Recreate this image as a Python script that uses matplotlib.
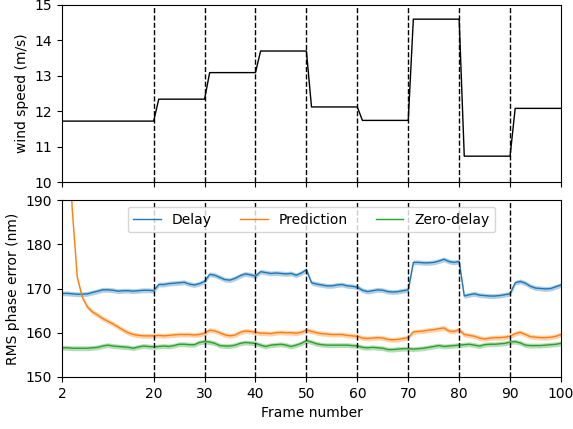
import matplotlib
matplotlib.use("Agg")
import matplotlib.pyplot as plt
import numpy as np

# Wind speed (step profile with 1-frame ramps)
wind_frames = [2, 20, 21, 30, 31, 40, 41, 50, 51, 60, 61, 70, 71, 80, 81, 90, 91, 100]
wind_values = [11.72, 11.72, 12.34, 12.34, 13.09, 13.09, 13.70, 13.70, 12.12, 12.12,
               11.74, 11.74, 14.60, 14.60, 10.73, 10.73, 12.08, 12.08]

frames = list(range(2, 101))

delay = [168.9, 168.9, 168.8, 168.7, 168.7, 168.8, 169.1, 169.4, 169.7, 169.7,
         169.6, 169.4, 169.5, 169.5, 169.4, 169.5, 169.6, 169.6, 169.5, 170.9,
         170.9, 171.1, 171.2, 171.3, 171.4, 171.0, 170.8, 171.1, 171.6, 173.2,
         173.0, 172.5, 172.0, 171.9, 172.3, 172.9, 173.3, 173.1, 172.8, 173.8,
         173.6, 173.4, 173.5, 173.4, 173.3, 173.4, 173.0, 173.5, 174.2, 171.3,
         171.0, 170.8, 170.6, 170.6, 170.8, 170.9, 170.6, 170.5, 170.3, 169.6,
         169.3, 169.5, 169.7, 169.6, 169.3, 169.2, 169.3, 169.5, 169.7, 175.9,
         175.9, 175.8, 175.8, 175.9, 176.2, 176.6, 176.1, 175.9, 176.1, 168.3,
         168.6, 168.8, 168.5, 168.4, 168.3, 168.3, 168.4, 168.6, 168.8, 171.3,
         171.6, 171.2, 170.5, 170.1, 170.0, 169.9, 170.0, 170.4, 170.8]

prediction = [250.0, 215.0, 188.0, 172.5, 168.0, 165.8, 164.7, 164.0, 163.2, 162.6,
              162.0, 161.3, 160.6, 160.0, 159.6, 159.4, 159.3, 159.3, 159.3, 159.4,
              159.3, 159.4, 159.5, 159.6, 159.6, 159.6, 159.5, 159.6, 159.9, 160.6,
              160.4, 160.0, 159.5, 159.3, 159.5, 160.1, 160.4, 160.3, 160.1, 159.9,
              159.9, 159.8, 160.0, 160.1, 160.0, 160.0, 159.9, 160.1, 160.6, 160.3,
              160.0, 159.8, 159.7, 159.6, 159.6, 159.6, 159.4, 159.3, 159.2, 158.8,
              158.7, 158.8, 158.9, 158.8, 158.5, 158.4, 158.5, 158.7, 158.9, 160.2,
              160.3, 160.4, 160.6, 160.7, 160.9, 161.1, 160.4, 160.3, 160.7, 159.6,
              159.4, 159.2, 158.8, 158.6, 158.8, 158.9, 158.9, 159.0, 159.2, 159.8,
              160.1, 159.6, 159.1, 159.0, 158.9, 158.9, 159.0, 159.2, 159.6]

zero_delay = [156.6, 156.6, 156.5, 156.5, 156.5, 156.5, 156.6, 156.7, 157.0, 157.2,
              157.0, 156.9, 156.8, 156.7, 156.5, 156.8, 157.0, 156.9, 156.8, 156.9,
              157.0, 156.9, 157.1, 157.4, 157.4, 157.3, 157.3, 157.8, 158.0, 157.9,
              157.6, 157.1, 157.0, 157.0, 157.2, 157.6, 157.8, 157.7, 157.6, 157.2,
              156.9, 157.2, 157.3, 157.4, 157.2, 156.9, 157.2, 157.6, 158.2, 157.9,
              157.5, 157.3, 157.2, 157.2, 157.2, 157.2, 157.2, 157.1, 157.0, 156.7,
              156.6, 156.7, 156.6, 156.5, 156.2, 156.2, 156.3, 156.4, 156.4, 156.3,
              156.4, 156.5, 156.7, 156.9, 157.1, 156.9, 157.0, 157.1, 157.2, 157.3,
              157.4, 157.2, 157.0, 157.3, 157.4, 157.4, 157.5, 157.6, 157.9, 158.0,
              157.7, 157.2, 157.1, 157.1, 157.1, 157.2, 157.3, 157.4, 157.6]

band = 0.55
series = [("Delay", delay, "#1f77b4"),
          ("Prediction", prediction, "#ff7f0e"),
          ("Zero-delay", zero_delay, "#2ca02c")]
change_frames = [20, 30, 40, 50, 60, 70, 80, 90]
xticks = [2, 20, 30, 40, 50, 60, 70, 80, 90, 100]

fig = plt.figure(figsize=(5.73, 4.29), dpi=100)
ax1 = fig.add_axes([62/573, 1-182/429, (561-62)/573, 177/429])
ax2 = fig.add_axes([62/573, 1-377/429, (561-62)/573, 177/429], sharex=ax1)

ax1.plot(wind_frames, wind_values, color="black", lw=1)
ax1.set_ylim(10, 15)
ax1.set_ylabel("wind speed (m/s)")
ax1.set_yticks([10, 11, 12, 13, 14, 15])

for name, vals, col in series:
    v = np.array(vals)
    ax2.fill_between(frames, v - band, v + band, color=col, alpha=0.35, lw=0)
    ax2.plot(frames, v, color=col, lw=1, label=name)

for ax in (ax1, ax2):
    for f in change_frames:
        ax.axvline(f, color="black", ls="--", lw=1)

ax2.set_ylim(150, 190)
ax2.set_xlim(2, 100)
ax2.set_xticks(xticks)
ax2.set_yticks([150, 160, 170, 180, 190])
ax2.set_ylabel("RMS phase error (nm)")
ax2.set_xlabel("Frame number")
plt.setp(ax1.get_xticklabels(), visible=False)
ax2.legend(loc="upper center", ncol=3, fontsize=10)

fig.savefig("out.png", dpi=100)
